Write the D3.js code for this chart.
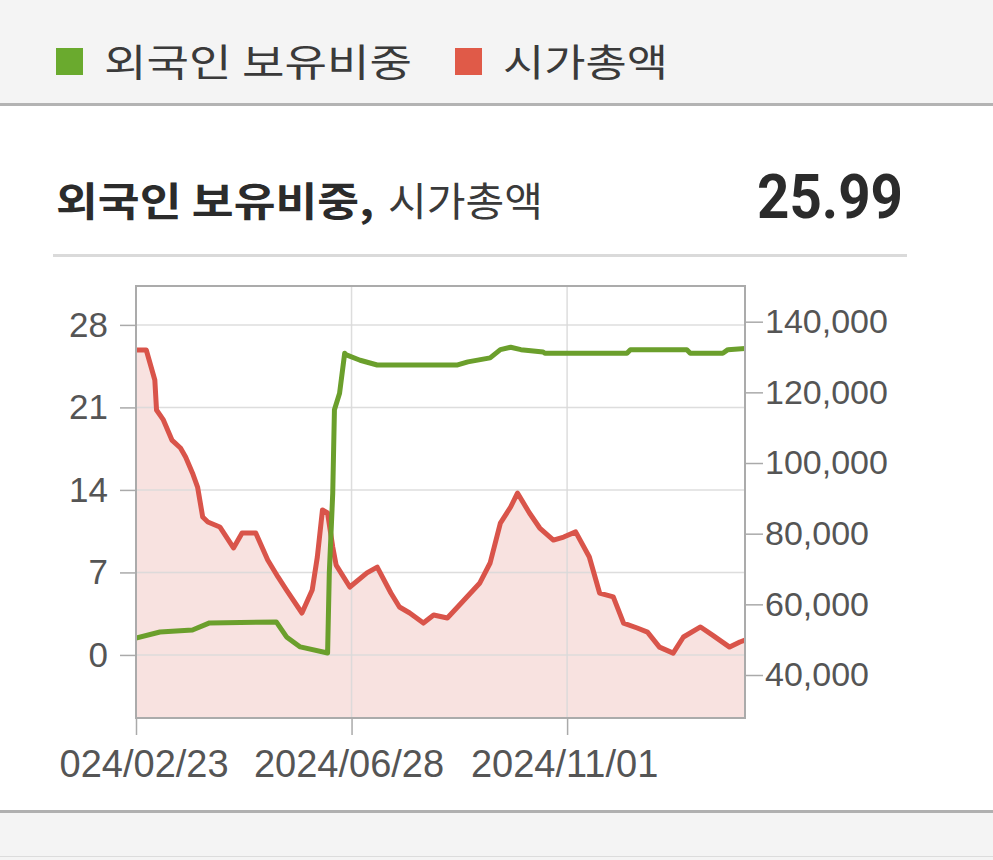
<!DOCTYPE html>
<html>
<head>
<meta charset="utf-8">
<script src="https://cdn.jsdelivr.net/npm/d3@7/dist/d3.min.js"></script>
<style>
  html, body { margin: 0; padding: 0; background: #fff; }
  svg { display: block; }
</style>
</head>
<body>
<svg id="chart" width="993" height="860"></svg>
<script>
// ---------------- DATA ----------------
const seriesNames = ["외국인 보유비중", "시가총액"];
const titleValue = "25.99";

const foreignDates = ["2024-02-23","2024-03-08","2024-03-27","2024-04-06","2024-05-15","2024-05-21","2024-05-29","2024-06-14","2024-06-15","2024-06-17","2024-06-18","2024-06-21","2024-06-24","2024-06-25","2024-07-03","2024-07-13","2024-08-29","2024-09-04","2024-09-17","2024-09-23","2024-09-29","2024-10-05","2024-10-18","2024-10-19","2024-12-06","2024-12-08","2025-01-10","2025-01-12","2025-01-31","2025-02-03","2025-02-13"];
const foreignValues = [1.44,1.95,2.12,2.72,2.80,1.53,0.68,0.17,6.96,13.7,20.8,22.2,25.6,25.45,25.0,24.6,24.6,24.86,25.2,25.9,26.1,25.9,25.7,25.6,25.6,25.9,25.9,25.6,25.6,25.9,25.99];

const capDates = ["2024-02-23","2024-02-29","2024-03-05","2024-03-06","2024-03-10","2024-03-15","2024-03-20","2024-03-23","2024-03-27","2024-03-30","2024-04-02","2024-04-05","2024-04-12","2024-04-20","2024-04-25","2024-05-03","2024-05-10","2024-05-16","2024-05-21","2024-05-30","2024-06-05","2024-06-08","2024-06-11","2024-06-14","2024-06-17","2024-06-19","2024-06-27","2024-07-07","2024-07-13","2024-07-21","2024-07-26","2024-08-01","2024-08-09","2024-08-15","2024-08-23","2024-08-29","2024-09-11","2024-09-17","2024-09-23","2024-09-29","2024-10-03","2024-10-10","2024-10-16","2024-10-24","2024-10-30","2024-11-06","2024-11-14","2024-11-20","2024-11-28","2024-12-04","2024-12-12","2024-12-18","2024-12-25","2025-01-02","2025-01-08","2025-01-18","2025-01-25","2025-02-04","2025-02-10","2025-02-13"];
const capValues = [132000,132000,123500,115000,112200,106500,104250,101700,97200,93200,84700,83300,81900,75950,80200,80200,72550,67750,64050,57550,64050,73400,86700,85850,76250,71100,64900,68900,70550,63200,59250,57550,54700,57000,56150,59250,66050,71700,83000,87550,91500,85850,81600,78200,79050,80500,73400,63200,62100,54700,53300,52150,47900,46200,50750,53600,51300,47900,49350,49900];

const xTickLabels = ["2024/02/23","2024/06/28","2024/11/01"];
const leftTicks = [0, 7, 14, 21, 28];
const rightTicks = [40000, 60000, 80000, 100000, 120000, 140000];
const xDomain = ["2024-02-23", "2025-02-13"];
const leftDomain = [-5.35, 31.3];
const rightDomain = [27830, 150100];

// ---------------- LAYOUT ----------------
const W = 993, H = 860;
const plot = { l: 136, r: 745, t: 286, b: 718 };
const GREEN = "#6b9f2c", RED = "#d9544a", FILL = "#f8e2e0";
const KR = "'Noto Sans CJK KR', 'Noto Sans', sans-serif";
const AX = "'Liberation Sans', Arial, sans-serif";

const svg = d3.select("#chart");
const parse = d3.utcParse("%Y-%m-%d");
const parseTick = d3.utcParse("%Y/%m/%d");
const fmtTick = d3.utcFormat("%Y/%m/%d");

// page bands
svg.append("rect").attr("x", 0).attr("y", 0).attr("width", W).attr("height", 104).attr("fill", "#f4f4f4");
svg.append("rect").attr("x", 0).attr("y", 103).attr("width", W).attr("height", 3).attr("fill", "#b3b3b3");
svg.append("rect").attr("x", 0).attr("y", 811).attr("width", W).attr("height", H - 811).attr("fill", "#f4f4f4");
svg.append("rect").attr("x", 0).attr("y", 810).attr("width", W).attr("height", 3).attr("fill", "#b0b0b0");
svg.append("rect").attr("x", 0).attr("y", 856).attr("width", W).attr("height", 1).attr("fill", "#dcdcdc");

// legend
const legendSquareColors = ["#6aaa2e", "#e05a48"];
const legendItems = [
  { sx: 56, tx: 104, tw: 308 },
  { sx: 455, tx: 503, tw: 165 }
];
legendItems.forEach((it, i) => {
  svg.append("rect").attr("x", it.sx).attr("y", 48).attr("width", 27).attr("height", 27).attr("fill", legendSquareColors[i]);
  svg.append("text").attr("x", it.tx).attr("y", 76)
    .attr("font-family", KR).attr("font-size", 38).attr("fill", "#3a3a3a")
    .attr("textLength", it.tw).attr("lengthAdjust", "spacingAndGlyphs")
    .text(seriesNames[i]);
});

// title
svg.append("text").attr("x", 56).attr("y", 216)
  .attr("font-family", KR).attr("font-size", 40).attr("font-weight", 700).attr("fill", "#2b2b2b")
  .attr("textLength", 318).attr("lengthAdjust", "spacingAndGlyphs")
  .text(seriesNames[0] + ",");
svg.append("text").attr("x", 388).attr("y", 216)
  .attr("font-family", KR).attr("font-size", 40).attr("font-weight", 400).attr("fill", "#3a3a3a")
  .attr("textLength", 155).attr("lengthAdjust", "spacingAndGlyphs")
  .text(seriesNames[1]);
svg.append("text").attr("x", 757).attr("y", 218)
  .attr("font-family", "Roboto, 'Noto Sans', sans-serif").attr("font-size", 61).attr("font-weight", 700).attr("fill", "#2b2b2b")
  .attr("textLength", 146).attr("lengthAdjust", "spacingAndGlyphs")
  .text(titleValue);
svg.append("rect").attr("x", 53).attr("y", 254).attr("width", 854).attr("height", 3).attr("fill", "#dadada");

// scales
const x = d3.scaleUtc().domain(xDomain.map(parse)).range([plot.l, plot.r]);
const yL = d3.scaleLinear().domain(leftDomain).range([plot.b, plot.t]);
const yR = d3.scaleLinear().domain(rightDomain).range([plot.b, plot.t]);

const defs = svg.append("defs");
defs.append("clipPath").attr("id", "plotClip").append("rect")
  .attr("x", plot.l).attr("y", plot.t).attr("width", plot.r - plot.l).attr("height", plot.b - plot.t);
defs.append("clipPath").attr("id", "chartClip").append("rect")
  .attr("x", 60).attr("y", 260).attr("width", W - 60).attr("height", 545);

const chart = svg.append("g").attr("clip-path", "url(#chartClip)");

const capData = capDates.map((d, i) => ({ date: parse(d), v: capValues[i] }));
const forData = foreignDates.map((d, i) => ({ date: parse(d), v: foreignValues[i] }));

const inner = chart.append("g").attr("clip-path", "url(#plotClip)");
inner.append("rect").attr("x", plot.l).attr("y", plot.t).attr("width", plot.r - plot.l).attr("height", plot.b - plot.t).attr("fill", "#fff");

// area under market cap
inner.append("path").datum(capData)
  .attr("fill", FILL)
  .attr("d", d3.area().x(d => x(d.date)).y0(plot.b).y1(d => yR(d.v)));

// grid
inner.selectAll(".hgrid").data(leftTicks).join("line")
  .attr("x1", plot.l).attr("x2", plot.r)
  .attr("y1", d => yL(d)).attr("y2", d => yL(d))
  .attr("stroke", "#d9d9d9").attr("stroke-opacity", 0.9).attr("stroke-width", 1.5);
inner.selectAll(".vgrid").data(xTickLabels.map(parseTick)).join("line")
  .attr("x1", d => x(d)).attr("x2", d => x(d))
  .attr("y1", plot.t).attr("y2", plot.b)
  .attr("stroke", "#d9d9d9").attr("stroke-opacity", 0.9).attr("stroke-width", 1.5);

// lines
inner.append("path").datum(capData)
  .attr("fill", "none").attr("stroke", RED).attr("stroke-width", 5).attr("stroke-linejoin", "round")
  .attr("d", d3.line().x(d => x(d.date)).y(d => yR(d.v)));
inner.append("path").datum(forData)
  .attr("fill", "none").attr("stroke", GREEN).attr("stroke-width", 5).attr("stroke-linejoin", "round")
  .attr("d", d3.line().x(d => x(d.date)).y(d => yL(d.v)));

// frame
chart.append("rect").attr("x", plot.l).attr("y", plot.t).attr("width", plot.r - plot.l).attr("height", plot.b - plot.t)
  .attr("fill", "none").attr("stroke", "#ababab").attr("stroke-width", 2);

// axes
function styleAxis(g, size) {
  g.select(".domain").remove();
  g.selectAll(".tick line").attr("stroke", "#aaaaaa").attr("stroke-width", 1.5);
  g.selectAll(".tick text").attr("fill", "#555").attr("font-family", AX).attr("font-size", size);
}
chart.append("g").attr("transform", `translate(${plot.l},0)`)
  .call(d3.axisLeft(yL).tickValues(leftTicks).tickSize(16).tickPadding(12).tickFormat(d => d))
  .call(g => styleAxis(g, 35));
chart.append("g").attr("transform", `translate(${plot.r},0)`)
  .call(d3.axisRight(yR).tickValues(rightTicks).tickSize(18).tickPadding(2).tickFormat(d3.format(",")))
  .call(g => styleAxis(g, 34));
chart.append("g").attr("transform", `translate(0,${plot.b})`)
  .call(d3.axisBottom(x).tickValues(xTickLabels.map(parseTick)).tickSize(17).tickPadding(15).tickFormat(fmtTick))
  .call(g => styleAxis(g, 38))
  .call(g => g.selectAll(".tick text").attr("dx", -3));
</script>
</body>
</html>
